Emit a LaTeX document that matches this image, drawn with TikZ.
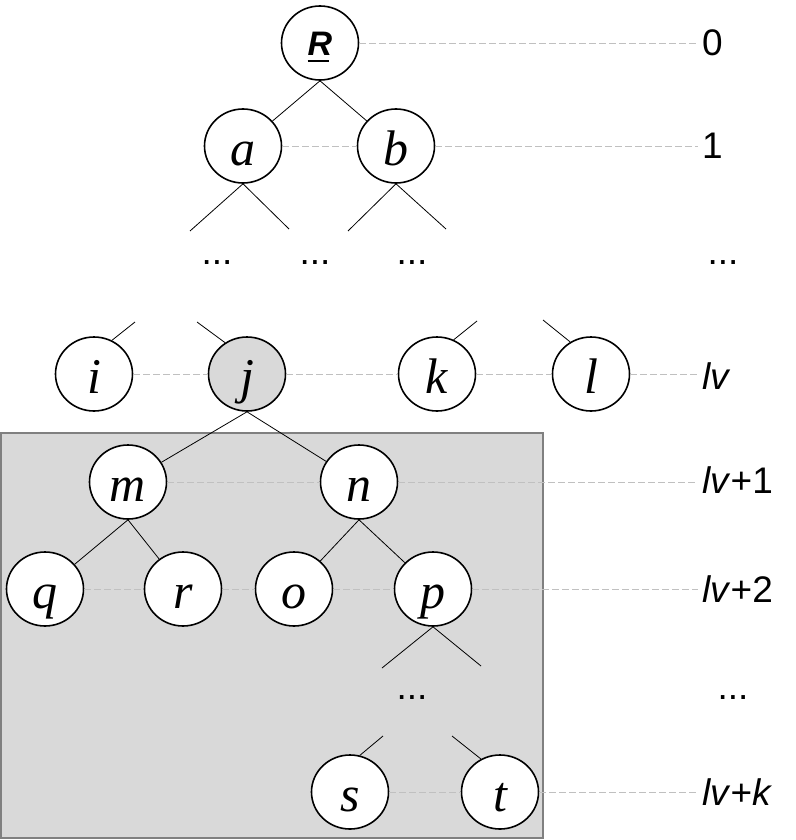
\documentclass[tikz,border=0pt]{standalone}
\usepackage{fontspec}
\setmainfont{Liberation Serif}
\setsansfont{Liberation Sans}
\usetikzlibrary{shapes.geometric}
\definecolor{Shade}{HTML}{D9D9D9}
\definecolor{Frame}{HTML}{808080}
\definecolor{Guide}{HTML}{C0C0C0}

\begin{document}
\begin{tikzpicture}[x=1pt,y=-1pt,
  vertex/.style={ellipse,draw,line width=1.6pt,fill=white,minimum width=77pt,minimum height=74pt,inner sep=0pt,text height=38pt,text depth=0pt,font=\fontsize{50}{50}\selectfont\itshape},
  edge/.style={line width=.8pt},
  guide/.style={draw=Guide,dash pattern=on 7pt off 3pt,line width=.8pt},
  level/.style={anchor=west,inner xsep=4pt,inner ysep=0pt,font=\fontsize{37}{37}\selectfont\sffamily},
  gap/.style={inner sep=0pt,font=\fontsize{37}{37}\selectfont\sffamily}]
\useasboundingbox (0,0) rectangle (795,840);
\filldraw[fill=Shade,draw=Frame,line width=1.2pt] (1,433) rectangle (543,838);

\node[vertex,text height=26pt,font=\fontsize{34}{34}\selectfont\sffamily\bfseries\itshape] (R) at (320,43) {\makebox[0pt][l]{\rule[-6pt]{.62em}{2.4pt}}R};
\node[vertex] (a) at (243,146) {a};
\node[vertex] (b) at (396,146) {b};
\node[gap] (dA) at (217,263) {...};
\node[gap] (dB) at (315,263) {...};
\node[gap] (dC) at (412,263) {...};
\node[vertex] (i) at (94,374) {i};
\node[vertex,fill=Shade] (j) at (247,374) {j};
\node[vertex] (k) at (437,374) {k};
\node[vertex] (l) at (591,374) {l};
\node[vertex] (m) at (128,482) {m};
\node[vertex] (n) at (359,482) {n};
\node[vertex] (q) at (45,589) {q};
\node[vertex] (r) at (183,589) {r};
\node[vertex] (o) at (294,589) {o};
\node[vertex] (p) at (433,589) {p};
\node[gap] (dD) at (412,698) {...};
\node[vertex] (s) at (350,792) {s};
\node[vertex] (t) at (500,792) {t};

\node[level] (lv0) at (698,43) {0};
\node[level] (lv1) at (698,146) {1};
\node[gap] (lvA) at (723,263) {...};
\node[level] (lvl) at (698,376) {\textit{lv}};
\node[level] (lvl1) at (698,480) {\textit{lv}+1};
\node[level] (lvl2) at (698,589) {\textit{lv}+2};
\node[gap] (lvB) at (733,698) {...};
\node[level] (lvlk) at (698,792) {\textit{lv}+\textit{k}};

\draw[guide] (R.east) -- (R.east -| lv0.west);
\draw[guide] (a.east) -- (b.west);
\draw[guide] (b.east) -- (b.east -| lv1.west);
\draw[guide] (i.east) -- (j.west);
\draw[guide] (j.east) -- (k.west);
\draw[guide] (k.east) -- (l.west);
\draw[guide] (l.east) -- (l.east -| lvl.west);
\draw[guide] (m.east) -- (n.west);
\draw[guide] (n.east) -- (n.east -| lvl1.west);
\draw[guide] (q.east) -- (r.west);
\draw[guide] (r.east) -- (o.west);
\draw[guide] (o.east) -- (p.west);
\draw[guide] (p.east) -- (p.east -| lvl2.west);
\draw[guide] (s.east) -- (t.west);
\draw[guide] (t.east) -- (t.east -| lvlk.west);

\coordinate (a1) at (190,231);
\coordinate (a2) at (289,229);
\coordinate (b1) at (348,231);
\coordinate (b2) at (446,229);
\coordinate (i0) at (135,322);
\coordinate (j0) at (197,322);
\coordinate (k0) at (477,321);
\coordinate (l0) at (543,320);
\coordinate (p1) at (382,668);
\coordinate (p2) at (481,666);
\coordinate (s0) at (383,736);
\coordinate (t0) at (452,736);

\draw[edge] (R.south) -- (a);
\draw[edge] (R.south) -- (b);
\draw[edge] (a.south) -- (a1);
\draw[edge] (a.south) -- (a2);
\draw[edge] (b.south) -- (b1);
\draw[edge] (b.south) -- (b2);
\draw[edge] (i.62) -- (i0);
\draw[edge] (j.125) -- (j0);
\draw[edge] (k.64) -- (k0);
\draw[edge] (l.123) -- (l0);
\draw[edge] (j.south) -- (m);
\draw[edge] (j.south) -- (n);
\draw[edge] (m.south) -- (q);
\draw[edge] (m.south) -- (r);
\draw[edge] (n.south) -- (o);
\draw[edge] (n.south) -- (p);
\draw[edge] (p.south) -- (p1);
\draw[edge] (p.south) -- (p2);
\draw[edge] (s.75) -- (s0);
\draw[edge] (t.120) -- (t0);
\end{tikzpicture}
\end{document}
